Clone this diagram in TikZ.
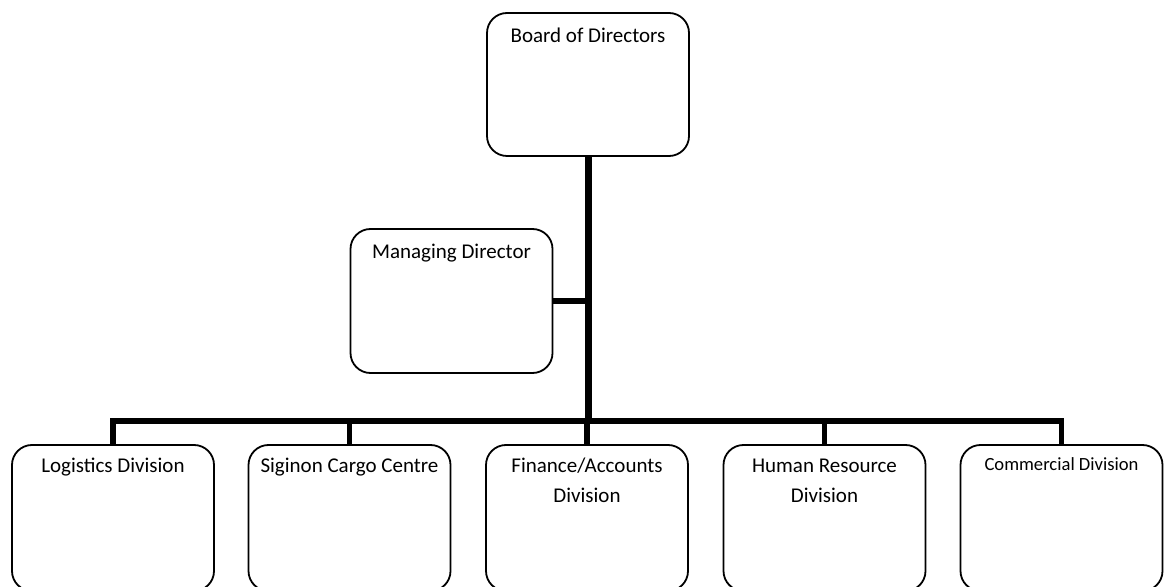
\documentclass[tikz,border=0pt]{standalone}
\usepackage{fontspec}
\setmainfont{Carlito}
\usetikzlibrary{positioning}
\tikzset{unitbox/.style={draw, line width=0.9pt, rounded corners=10pt,
    minimum width=101pt, minimum height=73pt, inner sep=0pt}}
\tikzset{boxtext/.style={anchor=base, align=center, inner sep=0pt,
    font=\fontsize{10.5}{15}\selectfont}}
\tikzset{spine/.style={line width=3.5pt}}
\tikzset{link/.style={line width=2.6pt, line join=miter}}

\begin{document}
\begin{tikzpicture}[x=0.5pt, y=-0.5pt]
      \useasboundingbox (0,0) rectangle (1166,587);
      \clip (0,0) rectangle (1166,587);

      \node[unitbox, minimum height=71.5pt] (board) at (588,84.5) {};
      \node[unitbox, minimum height=72pt] (md) at (451.5,301) {};

      \node[unitbox] (logi) at (113,518) {};
      \node[unitbox] (cargo) at (349.5,518) {};
      \node[unitbox] (fin) at (587,518) {};
      \node[unitbox] (hr) at (824.5,518) {};
      \node[unitbox] (comm) at (1061.5,518) {};

      \node[boxtext] (board-t) at ([yshift=-15pt]board.north) {Board of Directors};
      \node[boxtext] (md-t) at ([yshift=-15pt]md.north) {Managing Director};
      \node[boxtext] (logi-t) at ([yshift=-14pt]logi.north) {Logistics Division};
      \node[boxtext] (cargo-t) at ([yshift=-14pt]cargo.north) {Siginon Cargo Centre};
      % base of a two-line node sits on its last line
      \node[boxtext] (fin-t) at ([yshift=-29pt]fin.north) {Finance/Accounts\\Division};
      \node[boxtext] (hr-t) at ([yshift=-29pt]hr.north) {Human Resource\\Division};
      \node[boxtext, font=\fontsize{9.3}{13}\selectfont] (comm-t)
      at ([yshift=-13pt]comm.north) {Commercial Division};

      \coordinate (hub) at (588,421);

      \draw[spine] (board.south) -- (hub);
      \draw[link] (md.east) -- (md.east -| hub);
      \draw[link] (logi.north) -- (logi.north |- hub) -- (comm.north |- hub)
      -- (comm.north);
      \draw[link] (cargo.north) -- (cargo.north |- hub);
      \draw[link] (fin.north) -- (fin.north |- hub);
      \draw[link] (hr.north) -- (hr.north |- hub);
    \end{tikzpicture}
\end{document}
